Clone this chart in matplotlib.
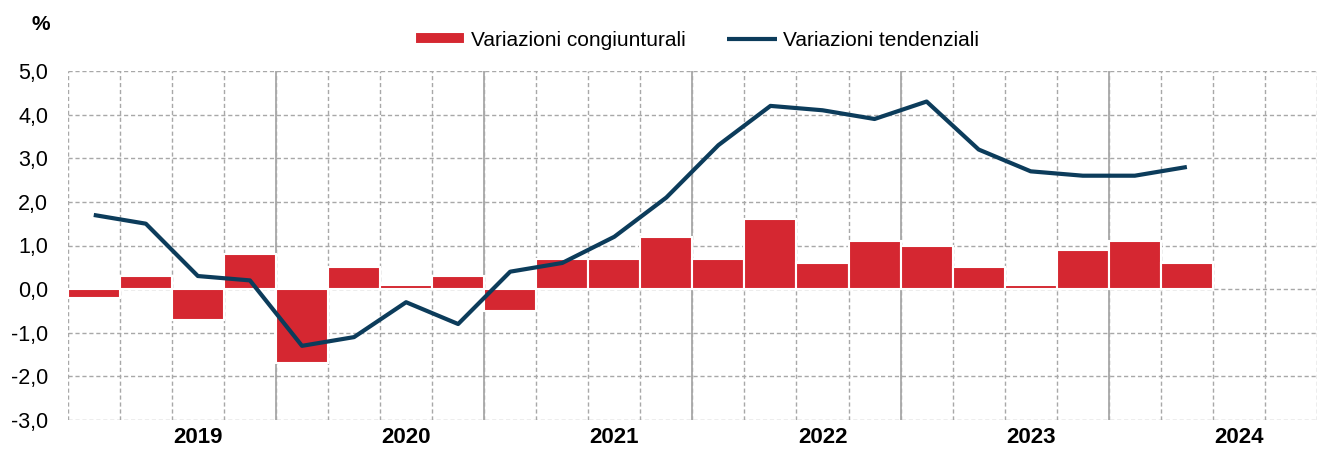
import matplotlib
matplotlib.use("Agg")
import matplotlib.pyplot as plt
import numpy as np

plt.rcParams['font.family'] = ['Liberation Sans Narrow', 'Liberation Sans', 'DejaVu Sans']

# Data
congiunturali = [-0.2, 0.3, -0.7, 0.8, -1.7, 0.5, 0.1, 0.3, -0.5, 0.7, 0.7, 1.2,
                 0.7, 1.6, 0.6, 1.1, 1.0, 0.5, 0.1, 0.9, 1.1, 0.6]
tendenziali = [1.7, 1.5, 0.3, 0.2, -1.3, -1.1, -0.3, -0.8, 0.4, 0.6, 1.2, 2.1,
               3.3, 4.2, 4.1, 3.9, 4.3, 3.2, 2.7, 2.6, 2.6, 2.8]
years = ['2019', '2020', '2021', '2022', '2023', '2024']
n_slots = 24
yticks = [-3.0, -2.0, -1.0, 0.0, 1.0, 2.0, 3.0, 4.0, 5.0]

RED = '#D52731'
NAVY = '#0C3C5B'
GRID = '#A8A8A8'

W, H = 1317, 455
fig = plt.figure(figsize=(W / 100, H / 100), dpi=100)
ax = fig.add_axes([67.75 / W, 1 - 420 / H, (W - 67.75) / W, 349 / H])

x = np.arange(len(congiunturali))
bars = ax.bar(x, congiunturali, width=1.0, color=RED, edgecolor='white', linewidth=1.5,
              zorder=3, label='Variazioni congiunturali')
line, = ax.plot(np.arange(len(tendenziali)), tendenziali, color=NAVY, lw=3.0, zorder=4,
                solid_capstyle='butt', label='Variazioni tendenziali')

ax.set_xlim(-0.5, -0.5 + (W - 67.75) / 52.56)
ax.set_ylim(-3.0, 5.0)

# grid
ax.set_yticks(yticks)
ax.set_yticklabels([f"{v:.1f}".replace('.', ',') for v in yticks])
ax.grid(axis='y', which='major', color=GRID, ls=(0, (3, 2)), lw=1.0, zorder=0)
ax.set_xticks(np.arange(-0.5, n_slots, 1), minor=True)
ax.grid(axis='x', which='minor', color=GRID, ls=(0, (3, 2)), lw=1.0, zorder=0)
for b in np.arange(3.5, n_slots - 1, 4):
    ax.axvline(b, color=GRID, lw=1.3, zorder=1)

ax.set_xticks(np.arange(2, n_slots, 4))
ax.set_xticklabels(years, fontsize=16, fontweight='bold')
ax.tick_params(axis='x', which='both', length=0, pad=5)
ax.tick_params(axis='y', length=0, pad=14, labelsize=15.5)

for s in ax.spines.values():
    s.set_visible(False)

fig.text(41 / W, 1 - 24 / H, '%', fontsize=15, fontweight='bold', ha='center', va='center')

fig.legend([bars, line], ['Variazioni congiunturali', 'Variazioni tendenziali'],
           loc='center', bbox_to_anchor=(697 / W, 1 - 40 / H), ncol=2, frameon=False,
           fontsize=15, handlelength=2.4, handletextpad=0.3, columnspacing=2.0,
           handleheight=0.5)

fig.savefig('out.png', dpi=100)
